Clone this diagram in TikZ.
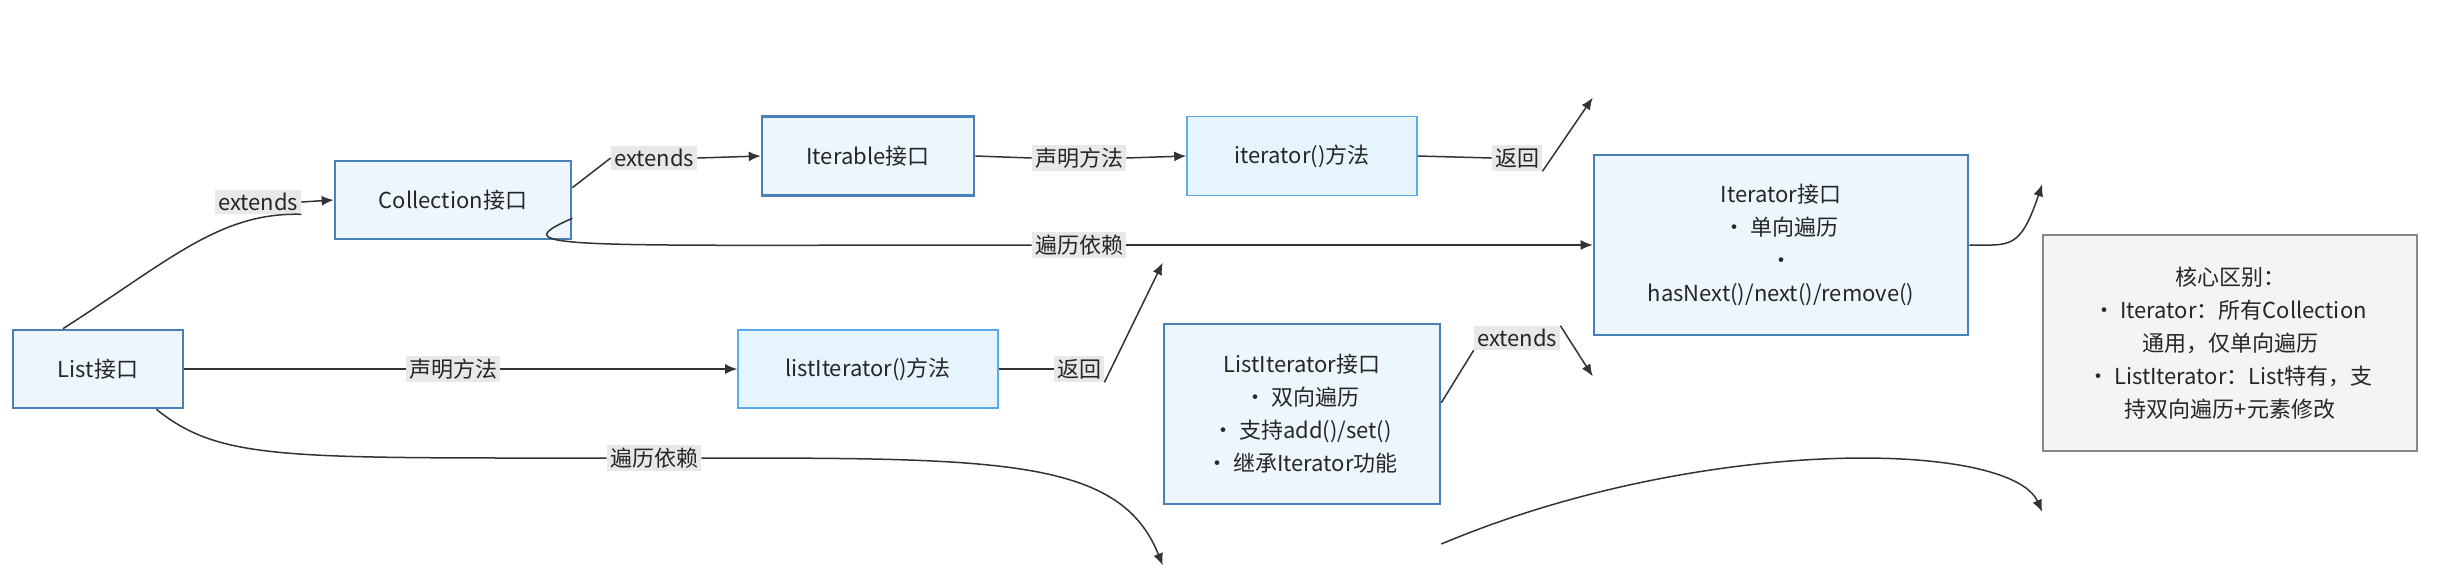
\documentclass[tikz,border=0pt]{standalone}
\usepackage{fontspec}
\setmainfont{Noto Sans CJK SC}
\usetikzlibrary{arrows.meta}
\definecolor{nfill}{HTML}{EEF6FD}
\definecolor{nbord}{HTML}{4A80B8}
\definecolor{mbord}{HTML}{5AAAF0}
\definecolor{mfill}{HTML}{E6F4FD}
\definecolor{cfill}{HTML}{F4F4F4}
\definecolor{cbord}{HTML}{888888}
\definecolor{lbg}{HTML}{E8E8E8}
\definecolor{ln}{HTML}{333333}
\begin{document}
\begin{tikzpicture}[x=0.5pt,y=-0.5pt,
  box/.style={draw=nbord,fill=nfill,line width=1.3pt,align=center,font=\fontsize{11pt}{16.5pt}\selectfont,text=black!85,inner sep=0pt},
  mbox/.style={box,draw=mbord,fill=mfill,line width=0.8pt},
  cbox/.style={box,draw=cbord,fill=cfill,line width=0.8pt},
  lab/.style={fill=lbg,font=\fontsize{11pt}{13pt}\selectfont,text=black!85,inner sep=1.5pt},
  e/.style={draw=ln,line width=0.75pt},
  a/.style={e,-{Latex[length=6pt,width=5pt]}}]
\useasboundingbox (0,0) rectangle (2440,564);
\node[box,minimum width=85pt,minimum height=39pt] (L) at (98,369) {List接口};
\node[box,minimum width=118pt,minimum height=39pt] (C) at (453,200) {Collection接口};
\node[box,minimum width=106pt,minimum height=39.5pt] (I) at (868,156) {Iterable接口};
\node[mbox,minimum width=115pt,minimum height=39.5pt] (M) at (1302,156) {iterator()方法};
\node[box,minimum width=187pt,minimum height=90pt] (It) at (1781,245) {Iterator接口\\• 单向遍历\\•\\hasNext()/next()/remove()};
\node[cbox,minimum width=187pt,minimum height=108pt] (K) at (2230,343) {核心区别：\\• Iterator：所有Collection\\通用，仅单向遍历\\• ListIterator：List特有，支\\持双向遍历+元素修改};
\node[mbox,minimum width=130pt,minimum height=39pt] (LM) at (868,369) {listIterator()方法};
\node[box,minimum width=138pt,minimum height=90pt] (LI) at (1302,414) {ListIterator接口\\• 双向遍历\\• 支持add()/set()\\• 继承Iterator功能};

\node[lab] (l1) at (258,202) {extends};
\node[lab] (l2) at (654,158) {extends};
\node[lab] (l3) at (1079,158) {声明方法};
\node[lab] (l4) at (1517,158) {返回};
\node[lab] (l5) at (1079,245) {遍历依赖};
\node[lab] (l6) at (453,369) {声明方法};
\node[lab] (l7) at (1079,369) {返回};
\node[lab] (l8) at (654,458) {遍历依赖};
\node[lab] (l9) at (1517,338) {extends};

\draw[e] (L.north) ++(-35,0) coordinate (s1) .. controls (170,260) and (220,212) .. (l1.south east);
\draw[a] (l1.east) -- (C.west);
\draw[e] ([yshift=-14]C.north east) -- (l2.west);
\draw[a] (l2.east) -- (I.west);
\draw[e] (I.east) -- (l3.west);
\draw[a] (l3.east) -- (M.west);
\draw[e] (M.east) -- (l4.west);
\draw[a] (l4.south east) -- ([yshift=28]It.north west);
\draw[e] ([yshift=11]C.south east) .. controls (500,250) and (560,245) .. (l5.west);
\draw[a] (l5.east) -- (It.west);
\draw[e] (L.east) -- (l6.west);
\draw[a] (l6.east) -- (LM.west);
\draw[e] (LM.east) -- (l7.west);
\draw[a] (l7.south east) -- ([yshift=30]LI.north west);
\draw[e] ([xshift=-14]L.south east) .. controls (220,460) and (280,458) .. (l8.west);
\draw[a] (l8.east) .. controls (1000,458) and (1120,458) .. ([yshift=-30]LI.south west);
\draw[e] ([yshift=-40]LI.north east) -- (l9.south west);
\draw[a] (l9.north east) -- ([yshift=-20]It.south west);
\draw[a] (It.east) .. controls (2010,245) and (2020,250) .. ([yshift=25]K.north west);
\draw[a] ([yshift=-65]LI.east) .. controls (1700,435) and (2010,440) .. ([yshift=-30]K.south west);
\end{tikzpicture}
\end{document}
